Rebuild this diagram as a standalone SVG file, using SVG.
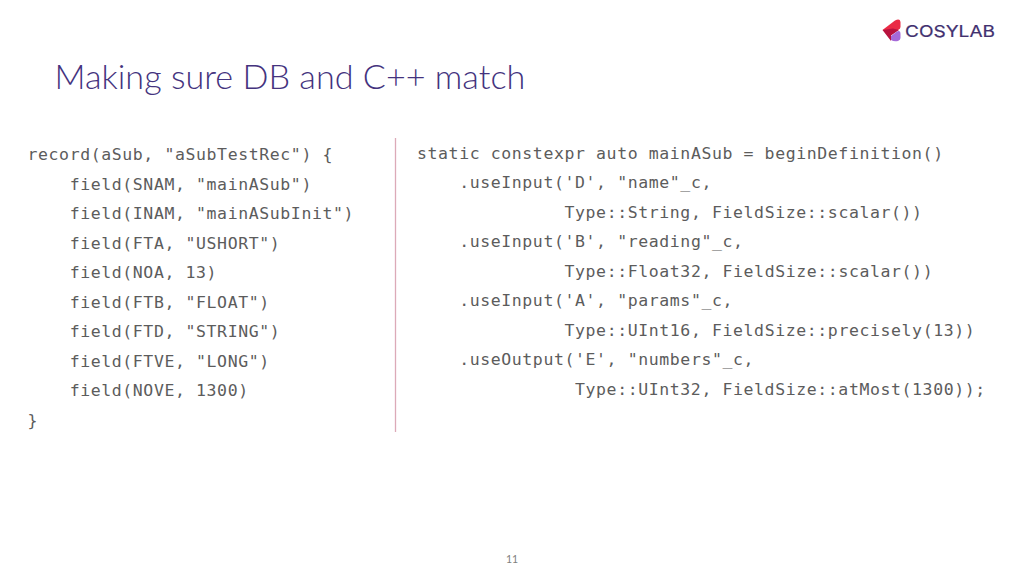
<svg xmlns="http://www.w3.org/2000/svg" width="1024" height="576" viewBox="0 0 1024 576">
<style>
text{white-space:pre}
.c{font-family:"DejaVu Sans Mono","Liberation Mono",monospace;font-size:16.5px;letter-spacing:.6px;fill:#5c5c5c}
</style>
<rect width="1024" height="576" fill="#fff"/>
<g id="logo">
<path d="M882.500 30L895 20.500Q900 18 900.500 22L900.500 27Q900.500 29 898 30L890 30Z" fill="#ea2a45"/>
<path d="M882.500 30L893 28.500L899 30L891 35.500L891 41Z" fill="#b8123e"/>
<path d="M891 36L897 31.500Q900.500 30 900.500 34L900.500 38Q900.500 40 898 41Q894 42 891 40Z" fill="#a56ad8"/>
<text x="905" y="36.800" font-family="Inter,'Liberation Sans',sans-serif" font-size="16.500px" fill="#41306f" stroke="#41306f" stroke-width=".2" textLength="90" lengthAdjust="spacingAndGlyphs">COSYLAB</text>
</g>
<text id="title" x="54.500" y="88.500" font-family="Lato,'Open Sans',sans-serif" font-weight="300" font-size="34.200px" fill="#44337e">Making sure DB and C++ match</text>
<line id="divider" x1="395.500" y1="138" x2="395.500" y2="432" stroke="#dcaab8" stroke-width="1.300"/>
<g id="left-code" class="c">
<text x="27.500" y="160">record(aSub, "aSubTestRec") {</text>
<text x="27.500" y="189.500">    field(SNAM, "mainASub")</text>
<text x="27.500" y="219">    field(INAM, "mainASubInit")</text>
<text x="27.500" y="248.500">    field(FTA, "USHORT")</text>
<text x="27.500" y="278">    field(NOA, 13)</text>
<text x="27.500" y="307.500">    field(FTB, "FLOAT")</text>
<text x="27.500" y="337">    field(FTD, "STRING")</text>
<text x="27.500" y="366.500">    field(FTVE, "LONG")</text>
<text x="27.500" y="396">    field(NOVE, 1300)</text>
<text x="27.500" y="425.500">}</text>
</g>
<g id="right-code" class="c">
<text x="417" y="159">static constexpr auto mainASub = beginDefinition()</text>
<text x="417" y="188.300">    .useInput('D', "name"_c,</text>
<text x="564.500" y="218">Type::String, FieldSize::scalar())</text>
<text x="417" y="247.300">    .useInput('B', "reading"_c,</text>
<text x="564.500" y="277">Type::Float32, FieldSize::scalar())</text>
<text x="417" y="306.300">    .useInput('A', "params"_c,</text>
<text x="564.500" y="336">Type::UInt16, FieldSize::precisely(13))</text>
<text x="417" y="365.300">    .useOutput('E', "numbers"_c,</text>
<text x="575" y="395">Type::UInt32, FieldSize::atMost(1300));</text>
</g>
<text id="page" x="512" y="563" text-anchor="middle" font-family="Lato,'Open Sans',sans-serif" font-size="10.500px" fill="#808080">11</text>
</svg>
